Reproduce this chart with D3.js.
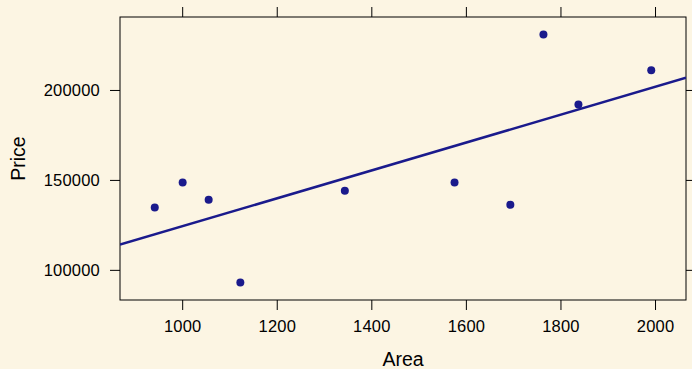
<!DOCTYPE html>
<html>
<head>
<meta charset="utf-8">
<script src="https://cdn.jsdelivr.net/npm/d3@7"></script>
<style>
  html, body { margin: 0; padding: 0; background: #fcf5e3; }
  svg { display: block; font-family: "Liberation Sans", Arial, sans-serif; }
</style>
</head>
<body>
<svg id="chart" width="692" height="369"></svg>
<script>
// house data
const area  = [942, 1001, 1056, 1123, 1344, 1576, 1694, 1764, 1838, 1992];
const price = [134700, 148500, 139000, 92900, 144000, 148500, 136200, 230900, 191900, 210900];
const xTicks = [1000, 1200, 1400, 1600, 1800, 2000];
const yTicks = [100000, 150000, 200000];

const width = 692, height = 369;
const margin = { top: 17, right: 6, bottom: 69, left: 120 };
const ink = "#1a1a8c";

const svg = d3.select("#chart");
const pw = width - margin.left - margin.right;
const ph = height - margin.top - margin.bottom;

// lattice style padding, 7% of range
function padded(v) {
    const [lo, hi] = d3.extent(v);
    const p = (hi - lo) * 0.07;
    return [lo - p, hi + p];
}

const x = d3.scaleLinear().domain(padded(area)).range([0, pw]);
const y = d3.scaleLinear().domain(padded(price)).range([ph, 0]);

const g = svg.append("g").attr("transform", `translate(${margin.left},${margin.top})`);

function styleAxis(sel, labels) {
    sel.select(".domain").remove();
    sel.selectAll(".tick line").attr("stroke", "#000");
    sel.selectAll(".tick text")
        .attr("fill", "#000")
        .style("font-size", "16.5px")
        .style("letter-spacing", "0.2px")
        .style("display", labels ? null : "none");
}

g.append("g").attr("transform", `translate(0,${ph})`)
    .call(d3.axisBottom(x).tickValues(xTicks).tickSize(10).tickPadding(10).tickFormat(d3.format("d")))
    .call(s => styleAxis(s, true));
g.append("g")
    .call(d3.axisTop(x).tickValues(xTicks).tickSize(10).tickFormat(""))
    .call(s => styleAxis(s, false));
g.append("g")
    .call(d3.axisLeft(y).tickValues(yTicks).tickSize(10).tickPadding(10).tickFormat(d3.format("d")))
    .call(s => styleAxis(s, true));
g.append("g").attr("transform", `translate(${pw},0)`)
    .call(d3.axisRight(y).tickValues(yTicks).tickSize(10).tickFormat(""))
    .call(s => styleAxis(s, false));

g.append("rect")
    .attr("width", pw).attr("height", ph)
    .attr("fill", "none").attr("stroke", "#000").attr("stroke-width", 1);

// least squares fit
const mx = d3.mean(area), my = d3.mean(price);
const slope = d3.sum(area, (a, i) => (a - mx) * (price[i] - my)) / d3.sum(area, a => (a - mx) ** 2);
const icpt = my - slope * mx;
const [x0, x1] = x.domain();

g.append("clipPath").attr("id", "pclip")
    .append("rect").attr("width", pw).attr("height", ph);

g.append("line")
    .attr("clip-path", "url(#pclip)")
    .attr("x1", x(x0)).attr("y1", y(icpt + slope * x0))
    .attr("x2", x(x1)).attr("y2", y(icpt + slope * x1))
    .attr("stroke", ink).attr("stroke-width", 2.5);

g.selectAll("circle.pt")
    .data(area.map((a, i) => [a, price[i]]))
    .join("circle")
    .attr("class", "pt")
    .attr("cx", d => x(d[0]))
    .attr("cy", d => y(d[1]))
    .attr("r", 4)
    .attr("fill", ink);

svg.append("text")
    .attr("x", margin.left + pw / 2)
    .attr("y", 366)
    .attr("text-anchor", "middle")
    .style("font-size", "19.5px")
    .text("Area");

svg.append("text")
    .attr("transform", `translate(25,${margin.top + ph / 2}) rotate(-90)`)
    .attr("text-anchor", "middle")
    .style("font-size", "19.5px")
    .text("Price");
</script>
</body>
</html>
